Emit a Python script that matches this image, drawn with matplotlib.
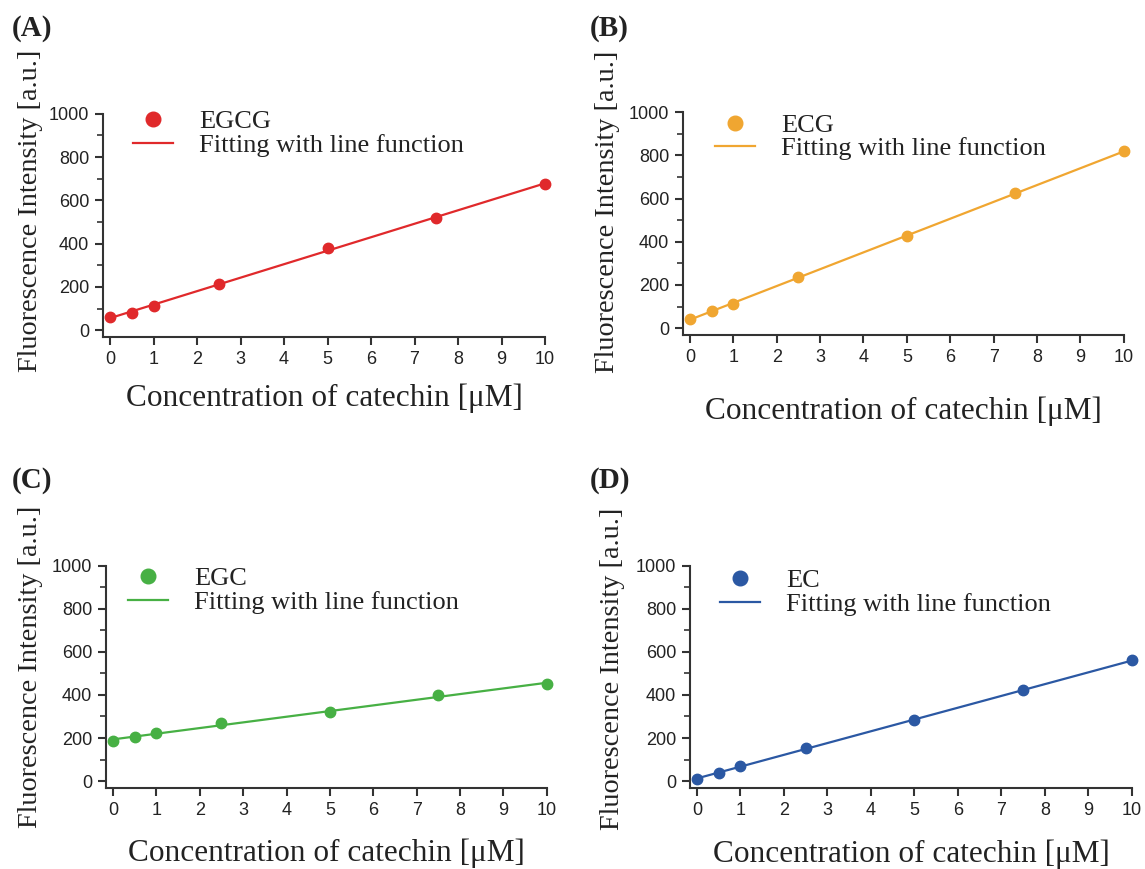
import numpy as np
import matplotlib
matplotlib.use("Agg")
import matplotlib.pyplot as plt
from matplotlib.ticker import MultipleLocator

# concentrations (uM)
conc = [0, 0.5, 1, 2.5, 5, 7.5, 10]

# fluorescence intensity
egcg = [62, 82, 111, 213, 379, 519, 677]
ecg = [42, 80, 111, 235, 427, 625, 819]
egc = [186, 204, 223, 269, 323, 398, 450]
ec = [12, 38, 68, 152, 286, 422, 560]

names = ["EGCG", "ECG", "EGC", "EC"]
panel_tags = ["(A)", "(B)", "(C)", "(D)"]
colors = ["#e0292b", "#f0a631", "#47b044", "#2b58a3"]
series = [egcg, ecg, egc, ec]

serif = "Liberation Serif"
sans = "Liberation Sans"

fig = plt.figure(figsize=(11.45, 8.69), dpi=100)

# axes rectangles [left, bottom, width, height] in figure fraction
rects = [
    [0.090, 0.612, 0.386, 0.257],
    [0.5965, 0.6145, 0.385, 0.2563],
    [0.0926, 0.0932, 0.385, 0.2558],
    [0.6026, 0.0932, 0.386, 0.2558],
]
ylab_pos = [(-0.165, 0.565), (-0.172, 0.552), (-0.172, 0.545), (-0.176, 0.535)]
xlab_pos = [(0.5, -0.275), (0.5, -0.342), (0.5, -0.292), (0.5, -0.297)]
leg_anchor = [(0.068, 1.018), (0.073, 0.995), (0.05, 0.995), (0.068, 0.986)]
tag_pos = [(0.010, 0.967), (0.515, 0.967), (0.010, 0.447), (0.515, 0.447)]

x = np.array(conc, dtype=float)
for i in range(4):
    ax = fig.add_axes(rects[i])
    y = np.array(series[i], dtype=float)
    k, b = np.polyfit(x, y, 1)
    ax.plot(x, y, "o", color=colors[i], ms=7.5, label=names[i], zorder=3,
            clip_on=False)
    ax.plot(x, k * x + b, "-", color=colors[i], lw=1.6,
            label="Fitting with line function", zorder=2, clip_on=False)

    ax.set_xlim(-0.16, 10)
    ax.set_ylim(-32, 1000)
    ax.set_xticks(range(0, 11))
    ax.set_yticks(range(0, 1001, 200))
    ax.yaxis.set_minor_locator(MultipleLocator(100))

    for s in ["top", "right"]:
        ax.spines[s].set_visible(False)
    for s in ["left", "bottom"]:
        ax.spines[s].set_linewidth(1.5)
        ax.spines[s].set_color("#333333")
    ax.tick_params(which="major", direction="out", length=6, width=1.5,
                   color="#333333", labelsize=13, pad=4)
    ax.tick_params(which="minor", direction="out", length=4, width=1.2,
                   color="#333333")
    for lab in ax.get_xticklabels() + ax.get_yticklabels():
        lab.set_fontfamily(sans)
        lab.set_color("#222222")

    ax.set_ylabel("Fluorescence Intensity [a.u.]", fontsize=20.3,
                  family=serif, color="#222222", va="center")
    ax.yaxis.set_label_coords(*ylab_pos[i])
    ax.set_xlabel("Concentration of catechin [\u03bcM]", fontsize=22.5,
                  family=serif, color="#222222", va="center")
    ax.xaxis.set_label_coords(*xlab_pos[i])

    leg = ax.legend(loc="upper left", bbox_to_anchor=leg_anchor[i],
                    frameon=False, prop={"family": serif, "size": 19},
                    handlelength=1.5, handletextpad=1.0, labelspacing=0.0,
                    borderpad=0, borderaxespad=0, markerscale=1.4)
    for t in leg.get_texts():
        t.set_color("#222222")

    fig.text(tag_pos[i][0], tag_pos[i][1], panel_tags[i], family=serif,
             fontweight="bold", fontsize=21, va="center", ha="left",
             color="#222222")

fig.savefig("out.png", dpi=100)
